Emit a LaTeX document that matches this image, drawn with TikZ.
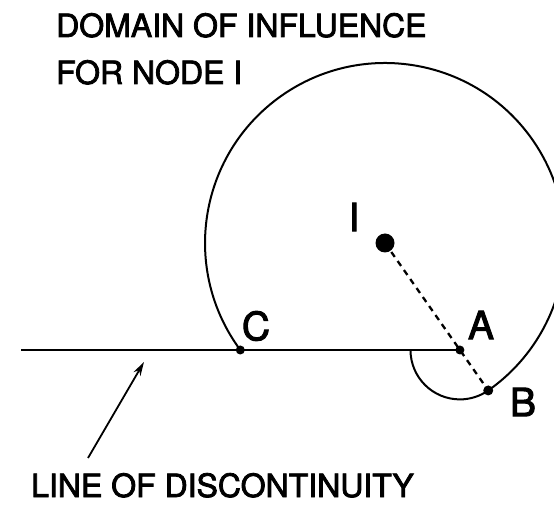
\documentclass[tikz,border=0pt]{standalone}
\usepackage{fontspec}
\setmainfont{TeX Gyre Heros}[RawFeature={embolden=2.5}]
\usetikzlibrary{arrows.meta,calc}
\begin{document}
\begin{tikzpicture}[x=1pt,y=1pt,
  curve/.style={line width=2pt},
  disc/.style={line width=2.4pt},
  dotA/.style={circle,fill=black,inner sep=0pt,minimum size=9pt},
  bigdot/.style={circle,fill=black,inner sep=0pt,minimum size=19pt},
  lbl/.style={inner sep=0pt,font=\fontsize{39}{44}\selectfont},
  title/.style={inner sep=0pt,anchor=base west,font=\fontsize{32}{38}\selectfont},
  dashline/.style={line width=2.3pt,dash pattern=on 6pt off 5pt}]
\useasboundingbox (0,0) rectangle (554,506);
\clip (0,0) rectangle (554,506);
% key points
\coordinate (Ic) at (385,263);
\coordinate (C) at (240.3,156);
\coordinate (A) at (459.9,156);
\coordinate (B) at (488.24,115.55);
\coordinate (L0) at (21,156);
\coordinate (arrTail) at (88,48);
\coordinate (arrTip) at (144,144);
% domain of influence
\draw[curve] (C) arc[start angle=216.48,end angle=-55,radius=180];
\draw[curve] ([shift={(180:49.4)}]A) arc[start angle=180,end angle=305,radius=49.4];
% line of discontinuity
\draw[disc] (L0) -- (A);
% dashed ray
\draw[dashline] (Ic) -- (B);
% dots
\node[bigdot] (I) at (Ic) {};
\node[dotA] (Cd) at (C) {};
\node[dotA] (Ad) at (A) {};
\node[dotA,minimum size=10pt] (Bd) at (B) {};
% labels
\node[lbl] (Il) at (354,289) {I};
\node[lbl] (Cl) at (256,180) {C};
\node[lbl] (Al) at (481,181) {A};
\node[lbl] (Bl) at (523,104) {B};
% arrow
\draw[line width=1.8pt,-{Stealth[length=14pt,width=8pt]}] (arrTail) -- (arrTip);
% texts
\node[title] (t1) at (56,469) {DOMAIN OF INFLUENCE};
\node[title] (t2) at (56,422) {FOR NODE I};
\node[title] (t3) at (31,9) {LINE OF DISCONTINUITY};
\end{tikzpicture}
\end{document}
